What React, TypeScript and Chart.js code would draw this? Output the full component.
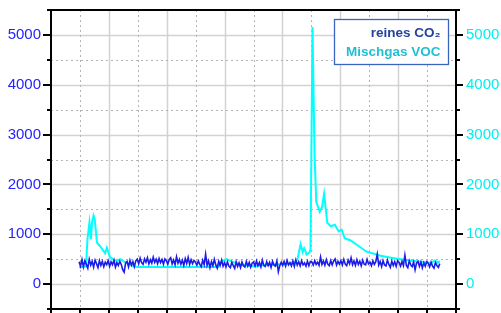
import React, { useEffect, useRef } from 'react';
import { Chart, registerables } from 'chart.js';

Chart.register(...registerables);

// ---- axis configuration values ----
const xMin = 0;
const xMax = 14;
const yMin = -500;
const yMax = 5500;
const yMajorTicks = [0, 1000, 2000, 3000, 4000, 5000];
const yMinorTicks = [-500, 500, 1500, 2500, 3500, 4500, 5500];
const xMajorGrid = [2, 4, 6, 8, 10, 12];
const xMinorGrid = [1, 3, 5, 7, 9, 11, 13];
const xTickMarks = [0, 1, 2, 3, 4, 5, 6, 7, 8, 9, 10, 11, 12, 13, 14];

// ---- series labels ----
const seriesLabels = ['reines CO\u2082', 'Mischgas VOC'];

// ---- Mischgas VOC (right axis) ----
const vocX = [
  0.97, 1.21, 1.26, 1.33, 1.38, 1.42, 1.47, 1.51, 1.59, 1.7, 1.77, 1.87, 1.93, 2.04, 2.18, 2.29,
  2.39, 2.53, 2.67, 2.84, 2.98, 5.79, 5.86, 6.06, 6.27, 6.55, 7.0, 7.42, 7.93, 8.21, 8.42, 8.52,
  8.63, 8.7, 8.75, 8.84, 8.94, 8.97, 9.04, 9.11, 9.17, 9.29, 9.37, 9.44, 9.55, 9.67, 9.81, 9.94,
  10.05, 10.15, 10.36, 10.57, 10.91, 11.4, 11.75, 12.09, 12.44, 12.79, 13.13, 13.27, 13.37, 13.44,
];
const vocY = [
  340, 350, 900, 1240, 900, 1250, 1375, 1300, 830, 760, 700, 620, 730, 540, 480, 470,
  500, 450, 410, 360, 345, 345, 440, 500, 450, 390, 360, 385, 400, 410, 440, 500,
  800, 640, 720, 590, 640, 700, 5160, 2600, 1650, 1450, 1550, 1810, 1230, 1160, 1190, 1060,
  1090, 920, 875, 790, 650, 570, 530, 500, 470, 450, 425, 475, 430, 460,
];

// ---- reines CO2 (left axis), evenly sampled between co2Start and co2End ----
const co2Start = 0.97;
const co2End = 13.44;
const co2Values = [
  450, 360, 490, 345, 470, 395, 320, 500, 380, 455, 340, 480, 410, 330, 470, 375, 455, 350, 440, 390,
  470, 355, 445, 390, 480, 340, 430, 375, 460, 395, 290, 240, 420, 455, 345, 475, 380, 450, 350, 465,
  500, 410, 520, 430, 395, 505, 440, 530, 405, 490, 420, 540, 435, 500, 410, 515, 430, 495, 400, 505,
  470, 400, 495, 530, 405, 485, 390, 550, 420, 495, 400, 480, 375, 510, 415, 535, 395, 490, 410, 475,
  440, 380, 465, 395, 350, 480, 390, 600, 375, 465, 330, 450, 370, 495, 385, 320, 455, 375, 480, 360,
  430, 345, 445, 360, 330, 435, 370, 315, 450, 355, 425, 330, 440, 365, 340, 455, 360, 435, 340, 420,
  445, 360, 465, 370, 435, 345, 480, 375, 355, 450, 370, 435, 335, 455, 380, 360, 465, 250, 370, 440,
  375, 455, 360, 475, 385, 430, 365, 465, 355, 485, 380, 450, 365, 470, 385, 425, 360, 460, 370, 455,
  445, 380, 470, 395, 440, 375, 545, 395, 465, 380, 490, 400, 370, 475, 385, 460, 505, 380, 455, 400,
  470, 385, 495, 400, 370, 480, 405, 525, 390, 465, 375, 490, 395, 460, 365, 480, 400, 385, 495, 405,
  440, 370, 465, 395, 450, 600, 380, 455, 350, 470, 385, 365, 480, 395, 335, 460, 375, 450, 355, 470,
  435, 360, 455, 370, 580, 375, 330, 465, 385, 350, 445, 285, 420, 455, 355, 440, 325, 430, 360, 450,
  420, 345, 440, 360, 320, 430, 370, 335, 410,
];

const FONT = '"Liberation Sans", Arial, Helvetica, sans-serif';
const CO2_COLOR = '#1c1ce8';
const VOC_COLOR = '#00ffff';

const framePlugin = {
  id: 'frame',
  beforeDatasetsDraw(chart: any) {
    const { ctx, chartArea: a, scales } = chart;
    const xs = scales.x;
    const ys = scales.y;
    ctx.save();
    ctx.strokeStyle = '#d2d2d2';
    ctx.lineWidth = 1.5;
    ctx.setLineDash([]);
    for (const v of yMajorTicks) {
      const py = Math.round(ys.getPixelForValue(v)) + 0.5;
      ctx.beginPath();
      ctx.moveTo(a.left, py);
      ctx.lineTo(a.right, py);
      ctx.stroke();
    }
    for (const v of xMajorGrid) {
      const px = Math.round(xs.getPixelForValue(v)) + 0.5;
      ctx.beginPath();
      ctx.moveTo(px, a.top);
      ctx.lineTo(px, a.bottom);
      ctx.stroke();
    }
    ctx.strokeStyle = '#b4b4b4';
    ctx.lineWidth = 1;
    ctx.setLineDash([2, 3]);
    for (const v of yMinorTicks) {
      const py = Math.round(ys.getPixelForValue(v)) + 0.5;
      ctx.beginPath();
      ctx.moveTo(a.left, py);
      ctx.lineTo(a.right, py);
      ctx.stroke();
    }
    for (const v of xMinorGrid) {
      const px = Math.round(xs.getPixelForValue(v)) + 0.5;
      ctx.beginPath();
      ctx.moveTo(px, a.top);
      ctx.lineTo(px, a.bottom);
      ctx.stroke();
    }
    ctx.restore();
  },
  afterDatasetsDraw(chart: any) {
    const { ctx, chartArea: a, scales } = chart;
    const xs = scales.x;
    const ys = scales.y;
    ctx.save();
    ctx.setLineDash([]);
    ctx.strokeStyle = '#000';
    ctx.lineWidth = 2;
    ctx.strokeRect(a.left, a.top, a.right - a.left, a.bottom - a.top);
    for (const v of yMajorTicks) {
      const py = Math.round(ys.getPixelForValue(v));
      ctx.beginPath();
      ctx.moveTo(a.left - 8, py);
      ctx.lineTo(a.left, py);
      ctx.moveTo(a.right, py);
      ctx.lineTo(a.right + 7, py);
      ctx.stroke();
    }
    for (const v of yMinorTicks) {
      const py = Math.round(ys.getPixelForValue(v));
      ctx.beginPath();
      ctx.moveTo(a.left - 4, py);
      ctx.lineTo(a.left, py);
      ctx.moveTo(a.right, py);
      ctx.lineTo(a.right + 4, py);
      ctx.stroke();
    }
    for (const v of xTickMarks) {
      const px = Math.round(xs.getPixelForValue(v));
      ctx.beginPath();
      ctx.moveTo(px, a.bottom);
      ctx.lineTo(px, a.bottom + 8);
      ctx.stroke();
    }
    ctx.restore();
  },
  afterDraw(chart: any) {
    const { ctx, chartArea: a } = chart;
    ctx.save();
    const boxRight = a.right - 7.5;
    const boxLeft = boxRight - 114;
    const boxTop = a.top + 9.5;
    const boxH = 45;
    ctx.fillStyle = '#fff';
    ctx.fillRect(boxLeft, boxTop, boxRight - boxLeft, boxH);
    ctx.strokeStyle = '#3a64bf';
    ctx.lineWidth = 1.3;
    ctx.strokeRect(boxLeft, boxTop, boxRight - boxLeft, boxH);
    ctx.font = 'bold 13.5px ' + FONT;
    ctx.textAlign = 'right';
    ctx.textBaseline = 'alphabetic';
    ctx.fillStyle = '#2443a0';
    ctx.fillText(seriesLabels[0], boxRight - 8, boxTop + 17);
    ctx.fillStyle = '#22bfd4';
    ctx.fillText(seriesLabels[1], boxRight - 8, boxTop + 36.5);
    ctx.restore();
  },
};

export default function App() {
  const ref = useRef<HTMLCanvasElement | null>(null);

  useEffect(() => {
    if (!ref.current) return;
    const co2Data = co2Values.map((v, i) => ({
      x: co2Start + (i * (co2End - co2Start)) / (co2Values.length - 1),
      y: v,
    }));
    const vocData = vocX.map((x, i) => ({ x, y: vocY[i] }));

    const chart = new Chart(ref.current, {
      type: 'line',
      data: {
        datasets: [
          {
            label: seriesLabels[0],
            data: co2Data,
            borderColor: CO2_COLOR,
            borderWidth: 1.6,
            pointRadius: 0,
            tension: 0,
            yAxisID: 'y',
          },
          {
            label: seriesLabels[1],
            data: vocData,
            borderColor: VOC_COLOR,
            borderWidth: 2,
            pointRadius: 0,
            tension: 0,
            yAxisID: 'y2',
          },
        ],
      },
      plugins: [framePlugin],
      options: {
        animation: false,
        responsive: false,
        devicePixelRatio: 1,
        layout: { padding: { top: 10, left: 0, right: 0, bottom: 0 } },
        plugins: {
          legend: { display: false },
          tooltip: { enabled: false },
        },
        scales: {
          x: {
            type: 'linear',
            min: xMin,
            max: xMax,
            ticks: { display: false },
            grid: { display: false, drawTicks: false },
            border: { display: false },
            afterFit(s: any) {
              s.height = 4;
              s.paddingLeft = 0;
              s.paddingRight = 0;
            },
          },
          y: {
            type: 'linear',
            position: 'left',
            min: yMin,
            max: yMax,
            afterBuildTicks(s: any) {
              s.ticks = yMajorTicks.map((v) => ({ value: v }));
            },
            ticks: {
              color: '#2323ff',
              font: { size: 15, family: FONT },
              padding: 10,
              callback: (v: any) => String(v),
            },
            grid: { display: false, drawTicks: false },
            border: { display: false },
            afterFit(s: any) {
              s.width = 51;
              s.paddingTop = 0;
              s.paddingBottom = 0;
            },
          },
          y2: {
            type: 'linear',
            position: 'right',
            min: yMin,
            max: yMax,
            afterBuildTicks(s: any) {
              s.ticks = yMajorTicks.map((v) => ({ value: v }));
            },
            ticks: {
              color: '#00f0f0',
              font: { size: 15, family: FONT },
              padding: 10,
              callback: (v: any) => String(v),
            },
            grid: { display: false, drawTicks: false },
            border: { display: false },
            afterFit(s: any) {
              s.width = 45;
              s.paddingTop = 0;
              s.paddingBottom = 0;
            },
          },
        },
      },
    } as any);
    return () => chart.destroy();
  }, []);

  return (
    <div style={{ position: 'fixed', left: 0, top: 0, width: 501, height: 313, background: '#fff' }}>
      <canvas ref={ref} width={501} height={313} style={{ display: 'block' }} />
    </div>
  );
}
